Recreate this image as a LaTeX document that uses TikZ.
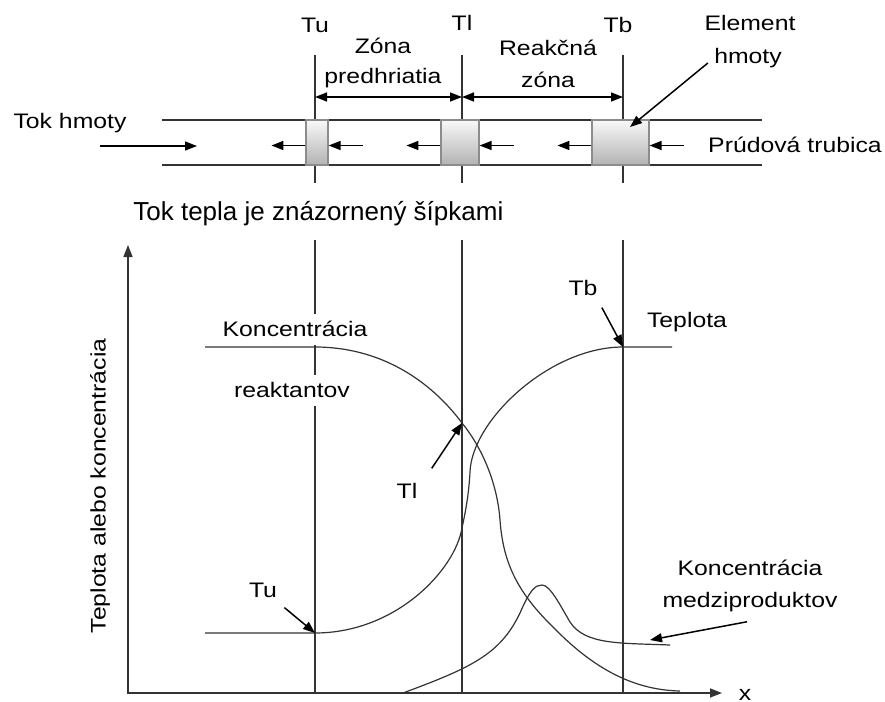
\documentclass[tikz,border=0pt]{standalone}
\usepackage{fontspec}
\setmainfont{Liberation Sans}[FakeStretch=1.18]
\newfontfamily\plainsans{Liberation Sans}
\usetikzlibrary{positioning, arrows.meta, calc}
\definecolor{inkgray}{HTML}{333333}
\definecolor{rimgray}{HTML}{8C8C8C}

\tikzset{
  lbl/.style={font=\fontsize{10.5}{12}\selectfont, inner sep=1pt, text=black},
  cover/.style={lbl, fill=white, inner xsep=3pt, inner ysep=2pt, text height=9pt, text depth=2.5pt},
  guide/.style={draw=inkgray, line width=0.75pt},
  graph/.style={draw=inkgray, line width=0.6pt},
  pointer/.style={draw=black, line width=0.75pt, -{Triangle[length=6pt,width=4.5pt]}},
  dim/.style={draw=black, line width=0.75pt, {Triangle[length=6pt,width=4.5pt]}-{Triangle[length=6pt,width=4.5pt]}},
  element/.style={draw=rimgray, line width=0.6pt, top color=gray!5, bottom color=gray!60,
    minimum height=22.5pt, inner sep=0pt},
}

\begin{document}
\begin{tikzpicture}[x=0.5pt, y=-0.5pt]
\useasboundingbox (0,0) rectangle (885,702);

% prudova trubica
\draw[guide] (162,120) -- (762,120) (162,165) -- (762,165);
\foreach \x in {315,462,623} {
  \draw[guide] (\x,55) -- (\x,183);
  \draw[guide] (\x,240) -- (\x,693);
}
\node[element, minimum width=11pt] (elU) at (317,142.5) {};
\node[element, minimum width=19pt] (elL) at (460,142.5) {};
\node[element, minimum width=28.5pt] (elB) at (620.5,142.5) {};
\foreach \el in {elU, elL, elB} {
  \draw[pointer] ([yshift=-1.5pt]\el.west) -- ++(-34,0);
  \draw[pointer] ([xshift=17pt, yshift=-1.5pt]\el.east) -- ([yshift=-1.5pt]\el.east);
}

% popisy hore
\node[lbl, anchor=base] (tuTop) at (315,32) {Tu};
\node[lbl, anchor=base] (tlTop) at (462,30) {Tl};
\node[lbl, anchor=base] (tbTop) at (618,32) {Tb};
\node[lbl, anchor=base] (zona1) at (383,53) {Zóna};
\node[lbl, anchor=base] (zona2) at (383,83) {predhriatia};
\node[lbl, anchor=base] (reak1) at (548,55) {Reakčná};
\node[lbl, anchor=base] (reak2) at (548,87) {zóna};
\node[lbl, anchor=base] (elem1) at (750,30) {Element};
\node[lbl, anchor=base] (elem2) at (748,63) {hmoty};
\node[lbl, anchor=base] (tokH) at (70,128) {Tok hmoty};
\node[lbl, anchor=base] (trub) at (795,152) {Prúdová trubica};
\node[lbl, font=\plainsans\fontsize{13}{15}\selectfont, anchor=base west] (tepla) at (131,220)
  {Tok tepla je znázornený šípkami};

\coordinate (dimU) at (315,97);
\coordinate (dimL) at (462,97);
\coordinate (dimB) at (623,97);
\draw[dim] (dimU) -- (dimL);
\draw[dim] (dimL) -- (dimB);

\coordinate (flowIn) at (100,146);
\draw[pointer] (flowIn) -- ++(97,0);
\coordinate (elemPt) at (630,127);
\draw[pointer] ([xshift=-2pt]elem2.base west) -- (elemPt);

% graf
\draw[guide, {Triangle[length=6pt,width=4.5pt]}-{Triangle[length=6pt,width=4.5pt]}]
  (128,245) |- (722,693);
\node[lbl, anchor=base] (xlab) at (745,700) {x};
\node[lbl, rotate=90] (ylab) at (100,486) {Teplota alebo koncentrácia};

% koncentracia reaktantov
\draw[graph] (205,347) -- (315,347)
  .. controls (380,347) and (430,380) .. (462,423)
  .. controls (480,445) and (497,480) .. (500,520)
  .. controls (503,560) and (515,590) .. (553,627)
  .. controls (590,665) and (630,690) .. (680,691);
% teplota
\draw[graph] (205,633) -- (315,633)
  .. controls (396,633) and (455,570) .. (462,528)
  .. controls (467,505) and (469,490) .. (470,472)
  .. controls (472,420) and (550,347) .. (623,347) -- (672,347);
% koncentracia medziproduktov
\draw[graph] (403,693)
  .. controls (470,668) and (500,655) .. (520,613)
  .. controls (530,590) and (535,585) .. (542,585)
  .. controls (550,585) and (560,605) .. (570,622)
  .. controls (585,645) and (620,643) .. (670,645);

\node[cover, anchor=base] (konc1) at (295,336) {Koncentrácia};
\node[cover, anchor=base] (konc2) at (292,397) {reaktantov};
\node[lbl, anchor=base] (teplota) at (687,327) {Teplota};
\node[lbl, anchor=base] (tbLow) at (583,295) {Tb};
\node[lbl, anchor=base] (tlLow) at (407,498) {Tl};
\node[lbl, anchor=base] (tuLow) at (263,597) {Tu};
\node[lbl, anchor=base] (medz1) at (750,575) {Koncentrácia};
\node[lbl, anchor=base] (medz2) at (750,607) {medziproduktov};

\coordinate (tuPt) at (315,633);
\coordinate (tlPt) at (462,423);
\coordinate (tbPt) at (623,347);
\coordinate (medzPt) at (650,640);
\draw[pointer] ([shift={(2.5pt,-4pt)}]tuLow.south east) -- (tuPt);
\draw[pointer] ([shift={(6pt,6pt)}]tlLow.north east) -- (tlPt);
\draw[pointer] ([shift={(1pt,-5pt)}]tbLow.south east) -- (tbPt);
\draw[pointer] ([shift={(-1.5pt,-4pt)}]medz2.south) -- (medzPt);
\end{tikzpicture}
\end{document}
